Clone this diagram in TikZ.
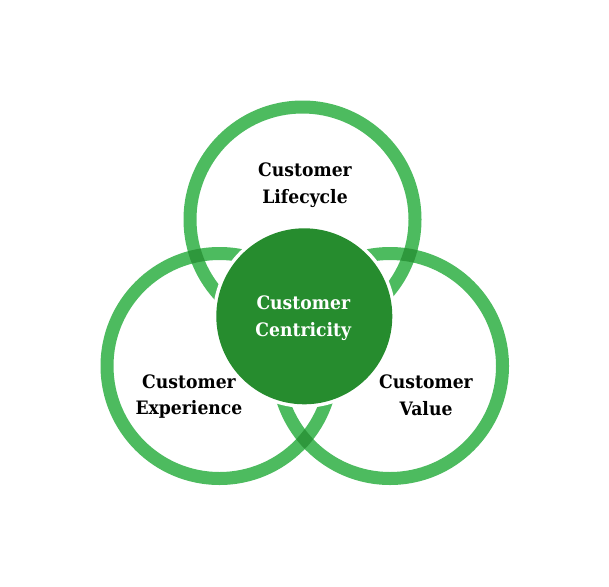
\documentclass[tikz,border=0pt]{standalone}
\usepackage{fontspec}
\setmainfont{DejaVu Serif}[FakeStretch=0.93]
\definecolor{ringc}{RGB}{77,187,95}
\definecolor{overc}{RGB}{46,152,60}
\definecolor{diskc}{RGB}{38,140,46}
\begin{document}
\begin{tikzpicture}[x=1pt,y=-1pt,
  ring/.style={fill=ringc,even odd rule},
  lab/.style={align=center,font=\fontsize{18.5}{26.5}\selectfont\bfseries,text=black,inner sep=0pt,text depth=5pt},
  clab/.style={lab,text=white}]
\useasboundingbox (0,0) rectangle (609,586);
\coordinate (T) at (302.5,219.5);
\coordinate (L) at (219.5,366);
\coordinate (R) at (390,366);
\coordinate (C) at (304.3,316.3);
% rings
\fill[ring] (T) circle (119) circle (106);
\fill[ring] (L) circle (119) circle (106);
\fill[ring] (R) circle (119) circle (106);
% overlaps
\begin{scope}[even odd rule]
  \clip (T) circle (119) circle (106);
  \fill[overc] (L) circle (119) circle (106);
  \fill[overc] (R) circle (119) circle (106);
\end{scope}
\begin{scope}[even odd rule]
  \clip (L) circle (119) circle (106);
  \fill[overc] (R) circle (119) circle (106);
\end{scope}
% centre disk
\fill[white] (C) circle (91.5);
\node[circle,fill=diskc,minimum size=176,inner sep=0pt] (disk) at (C) {};
\node[clab] (centric) at (303.3,318.7) {Customer\\Centricity};
\node[lab] (life) at (305,185.5) {Customer\\Lifecycle};
\node[lab] (exp) at (189,397) {Customer\\Experience};
\node[lab] (val) at (426,397.5) {Customer\\Value};
\end{tikzpicture}
\end{document}
